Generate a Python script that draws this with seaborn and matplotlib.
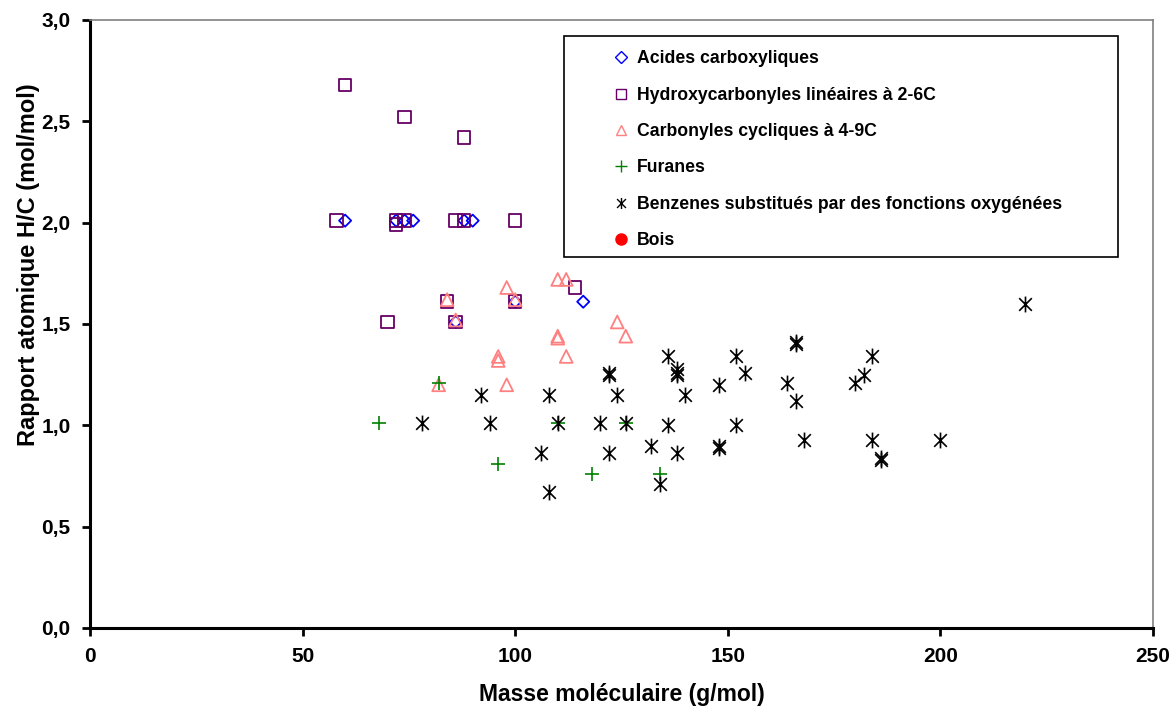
import numpy as np
import pandas as pd
import seaborn as sns
import matplotlib.pyplot as plt
from matplotlib.path import Path
from matplotlib.lines import Line2D
from matplotlib.patches import Rectangle

# data (masse moleculaire g/mol, rapport H/C)
acides_x = [60, 72, 74, 76, 88, 90, 86, 100, 116]
acides_y = [2.01, 2.01, 2.01, 2.01, 2.01, 2.01, 1.51, 1.61, 1.61]

hydroxy_x = [60, 74, 88, 58, 72, 72, 74, 86, 88, 100, 84, 100, 70, 86, 114]
hydroxy_y = [2.68, 2.52, 2.42, 2.01, 2.01, 1.99, 2.01, 2.01, 2.01, 2.01, 1.61, 1.61, 1.51, 1.51, 1.68]

carbonyles_x = [110, 112, 98, 84, 100, 86, 124, 126, 110, 110, 112, 96, 96, 98, 82]
carbonyles_y = [1.72, 1.72, 1.68, 1.62, 1.62, 1.52, 1.51, 1.44, 1.43, 1.44, 1.34, 1.34, 1.32, 1.20, 1.20]

furanes_x = [82, 68, 96, 110, 126, 118, 134]
furanes_y = [1.21, 1.01, 0.81, 1.01, 1.01, 0.76, 0.76]

benzenes_x = [78, 92, 94, 108, 110, 106, 108, 122, 122, 124, 120, 126, 122, 132, 136, 138, 138,
              138, 136, 138, 134, 140, 166, 166, 152, 154, 148, 164, 166, 184, 182, 180, 152,
              148, 148, 168, 184, 186, 186, 220, 200]
benzenes_y = [1.01, 1.15, 1.01, 1.15, 1.01, 0.865, 0.67, 1.26, 1.25, 1.15, 1.01, 1.01, 0.865, 0.90,
              1.34, 1.28, 1.26, 1.25, 1.00, 0.865, 0.71, 1.15, 1.41, 1.40, 1.34, 1.26, 1.20, 1.21,
              1.12, 1.34, 1.25, 1.21, 1.00, 0.90, 0.89, 0.93, 0.93, 0.84, 0.83, 1.60, 0.93]

bois_x = []
bois_y = []

labels = ["Acides carboxyliques", "Hydroxycarbonyles linéaires à 2-6C",
          "Carbonyles cycliques à 4-9C", "Furanes",
          "Benzenes substitués par des fonctions oxygénées", "Bois"]

# asterisk marker like Excel's: an X with a vertical bar
star = Path([(-0.8, -0.8), (0.8, 0.8), (-0.8, 0.8), (0.8, -0.8), (0, -1), (0, 1)],
            [Path.MOVETO, Path.LINETO, Path.MOVETO, Path.LINETO, Path.MOVETO, Path.LINETO])

series = [
    (acides_x, acides_y, "D", "#0000FF", 38, True),
    (hydroxy_x, hydroxy_y, "s", "#660066", 80, True),
    (carbonyles_x, carbonyles_y, "^", "#FF8080", 85, True),
    (furanes_x, furanes_y, "+", "#008000", 95, False),
    (benzenes_x, benzenes_y, star, "#000000", 130, False),
    (bois_x, bois_y, "o", "#FF0000", 60, False),
]

sns.set_style("white")
plt.rcParams["font.family"] = ["Liberation Sans", "DejaVu Sans"]
plt.rcParams["font.weight"] = "bold"
plt.rcParams["text.color"] = "black"
plt.rcParams["axes.labelcolor"] = "black"
plt.rcParams["xtick.color"] = "black"
plt.rcParams["ytick.color"] = "black"

fig = plt.figure(figsize=(11.76, 7.06), dpi=100)
ax = fig.add_axes([90 / 1176, 78 / 706, 1063 / 1176, 608 / 706])

handles = []
for (xs, ys, mk, col, size, hollow), lab in zip(series, labels):
    if len(xs) > 0:
        df = pd.DataFrame({"x": xs, "y": ys})
        if hollow:
            sns.scatterplot(data=df, x="x", y="y", marker=mk, s=size, facecolors="none",
                            edgecolor=col, linewidth=1.3, ax=ax, zorder=3)
        else:
            sns.scatterplot(data=df, x="x", y="y", marker=mk, s=size, color=col,
                            edgecolor=col, linewidth=1.2, ax=ax, zorder=3)
    if hollow:
        h = Line2D([], [], linestyle="none", marker=mk, markersize=6 if mk == "D" else 7,
                   markerfacecolor="none", markeredgecolor=col, markeredgewidth=1.0)
    else:
        h = Line2D([], [], linestyle="none", marker=mk, markersize=8, color=col,
                   markerfacecolor=col, markeredgecolor=col, markeredgewidth=1.0)
    handles.append(h)

ax.set_xlim(0, 250)
ax.set_ylim(0, 3.0)
ax.set_xticks([0, 50, 100, 150, 200, 250])
ax.set_xticklabels(["0", "50", "100", "150", "200", "250"])
ax.set_yticks([0, 0.5, 1.0, 1.5, 2.0, 2.5, 3.0])
ax.set_yticklabels(["0,0", "0,5", "1,0", "1,5", "2,0", "2,5", "3,0"])
ax.tick_params(axis="both", direction="out", length=6, width=2, color="black",
               labelcolor="black", labelsize=15, pad=8, bottom=True, left=True)
for lab in ax.get_xticklabels() + ax.get_yticklabels():
    lab.set_fontweight("bold")

ax.spines["left"].set_color("black")
ax.spines["left"].set_linewidth(2.2)
ax.spines["bottom"].set_color("black")
ax.spines["bottom"].set_linewidth(2.2)
ax.spines["top"].set_color("#808080")
ax.spines["top"].set_linewidth(1.2)
ax.spines["right"].set_color("#808080")
ax.spines["right"].set_linewidth(1.2)

ax.set_xlabel("Masse moléculaire (g/mol)", fontsize=16.5, fontweight="bold", labelpad=12,
              color="black")
ax.set_ylabel("Rapport atomique H/C (mol/mol)", fontsize=17, fontweight="bold", color="black")
# the y title sits higher than the axis centre in the original
ax.yaxis.set_label_coords((40 - 90) / 1063, (628 - 265) / 608)

# legend frame drawn separately, wide with entries indented like the original
x0, x1 = (564 - 90) / 1063, (1118 - 90) / 1063
y0, y1 = (628 - 257) / 608, (628 - 36) / 608
frame = Rectangle((x0, y0), x1 - x0, y1 - y0, transform=ax.transAxes, facecolor="white",
                  edgecolor="black", linewidth=1.2, zorder=4, clip_on=False)
ax.add_patch(frame)

leg = ax.legend(handles, labels, loc="upper left", bbox_to_anchor=((609 - 90) / 1063, (628 - 45) / 608),
                frameon=False, handlelength=0.8, handletextpad=0.5, labelspacing=1.10,
                borderpad=0.3, borderaxespad=0, prop={"weight": "bold", "size": 12.7})
leg.set_zorder(5)
for t in leg.get_texts():
    t.set_color("black")

fig.savefig("out.png", dpi=100, facecolor="white")
